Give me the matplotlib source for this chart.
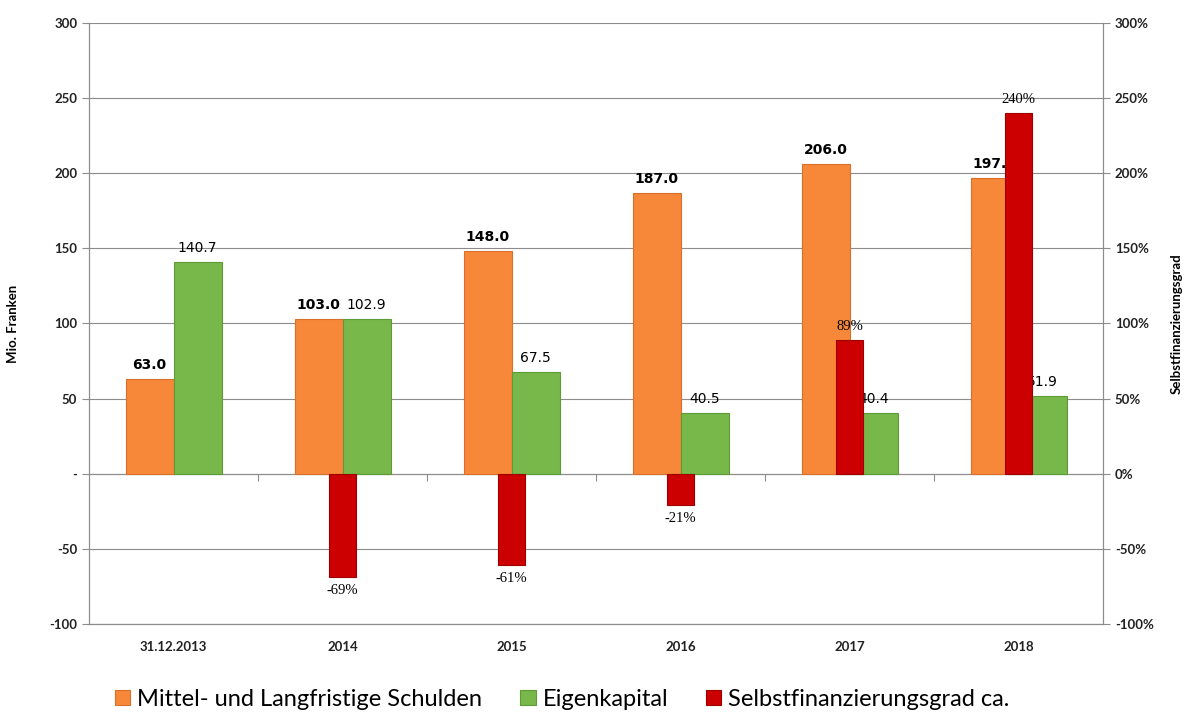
import matplotlib
matplotlib.use('Agg')
import matplotlib.pyplot as plt
import numpy as np

# data
categories = ['31.12.2013', '2014', '2015', '2016', '2017', '2018']
schulden = [63.0, 103.0, 148.0, 187.0, 206.0, 197.0]
eigenkapital = [140.7, 102.9, 67.5, 40.5, 40.4, 51.9]
selbstfin = [np.nan, -69, -61, -21, 89, 240]   # in %

c_orange = '#F7883A'
c_green = '#78B84A'
c_red = '#CC0000'
c_grey = '#8C8C8C'

fig = plt.figure(figsize=(11.84, 7.18), dpi=100)
ax = fig.add_axes([0.0752, 0.131, 0.8564, 0.837])
ax2 = ax.twinx()

x = np.arange(len(categories))
w = 0.284

b1 = ax.bar(x - w / 2, schulden, w, color=c_orange, edgecolor='#D9702A', linewidth=0.8,
            label='Mittel- und Langfristige Schulden', zorder=3)
b2 = ax.bar(x + w / 2, eigenkapital, w, color=c_green, edgecolor='#5E9A36', linewidth=0.8,
            label='Eigenkapital', zorder=3)
b3 = ax2.bar(x, selbstfin, 0.165, color=c_red, edgecolor='#9E0000', linewidth=0.8,
             label='Selbstfinanzierungsgrad ca.', zorder=3)

ax.set_xlim(-0.5, len(categories) - 0.5)
ax.set_ylim(-100, 300)
ax2.set_ylim(-100, 300)
ax.set_yticks(np.arange(-100, 301, 50))
ax.set_yticklabels([('-' if v == 0 else str(v)) for v in np.arange(-100, 301, 50)])
ax2.set_yticks(np.arange(-100, 301, 50))
ax2.set_yticklabels([f'{v}%' for v in np.arange(-100, 301, 50)])

ax.grid(axis='y', color=c_grey, linewidth=0.8, zorder=0)
ax.set_axisbelow(True)

for a in (ax, ax2):
    for s in a.spines.values():
        s.set_color(c_grey)
    a.spines['top'].set_visible(False)
    a.tick_params(axis='y', colors=c_grey, length=5, labelsize=9.5)
    for lab in a.get_yticklabels():
        lab.set_color('#222222')
        lab.set_fontfamily('Lato')
        lab.set_fontweight('bold')

ax.set_xticks(x)
ax.set_xticklabels(categories, fontfamily='Lato', fontweight='bold', fontsize=9.5, color='#222222')
ax.tick_params(axis='x', length=0, pad=12)

# zero line with category boundary ticks
zero = ax.secondary_xaxis(0.25)
zero.set_xticks(np.arange(0.5, len(categories) - 0.5, 1))
zero.set_xticklabels([])
zero.tick_params(length=5, color=c_grey, direction='out')
zero.spines['bottom'].set_color(c_grey)

ax.set_ylabel('Mio. Franken', fontfamily='Lato', fontweight='bold', fontsize=9.5, labelpad=22)
ax2.set_ylabel('Selbstfinanzierungsgrad', fontfamily='Lato', fontweight='bold', fontsize=9.5, labelpad=12)

# value labels
for xi, v in zip(x, schulden):
    ax.annotate(f'{v:.1f}', (xi - w / 2, v), xytext=(0, 5), textcoords='offset points',
                ha='center', va='bottom', fontsize=10, fontweight='bold', zorder=5)
for xi, v in zip(x, eigenkapital):
    ax.annotate(f'{v:.1f}', (xi + w / 2, v), xytext=(0, 5), textcoords='offset points',
                ha='center', va='bottom', fontsize=10, zorder=5)
for xi, v in zip(x, selbstfin):
    if np.isnan(v):
        continue
    off = 5 if v > 0 else -5
    ax2.annotate(f'{v:.0f}%', (xi, v), xytext=(0, off), textcoords='offset points',
                 ha='center', va='bottom' if v > 0 else 'top', fontsize=10.5,
                 fontfamily='Liberation Serif', zorder=5)

fig.legend(handles=[b1, b2, b3], loc='lower center', bbox_to_anchor=(0.475, -0.018), ncol=3,
           frameon=False, prop={'family': 'Lato', 'size': 17}, handlelength=0.65,
           handleheight=0.65, handletextpad=0.3, columnspacing=1.6)

fig.savefig('out.png', dpi=100)
